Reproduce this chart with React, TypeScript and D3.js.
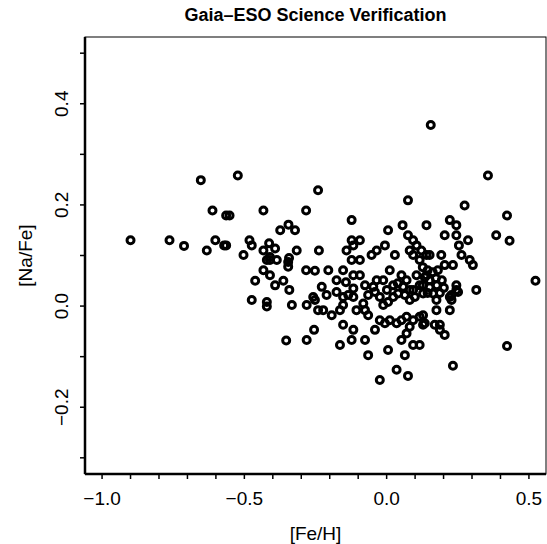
import * as d3 from "d3";

// [Fe/H] and [Na/Fe], one entry per star
const feH = [
  -0.900, -0.763, -0.712, -0.653, -0.632, -0.612, -0.602, -0.571, -0.564, -0.564,
  -0.552, -0.523, -0.503, -0.482, -0.474, -0.433, -0.433, -0.413, -0.392, -0.374,
  -0.345, -0.322, -0.316, -0.343, -0.410, -0.283, -0.241, -0.238, -0.421, -0.410,
  -0.386, -0.346, -0.346, -0.433, -0.410, -0.462, -0.392, -0.363, -0.342, -0.283,
  -0.252, -0.474, -0.421, -0.421, -0.333, -0.281, -0.252, -0.241, -0.255, -0.281,
  -0.353, -0.228, -0.123, 0.005, 0.056, 0.075, 0.140, -0.123, -0.094, -0.117,
  -0.141, -0.053, -0.035, -0.006, 0.029, 0.075, 0.093, 0.105, 0.122, 0.081,
  0.093, 0.116, 0.140, -0.123, -0.094, -0.205, -0.153, -0.176, -0.117, -0.094,
  0.011, -0.035, -0.012, 0.023, 0.052, 0.070, 0.105, 0.140, 0.116, 0.081,
  0.058, 0.128, -0.211, -0.258, -0.176, -0.153, -0.117, -0.117, -0.065, -0.047,
  -0.024, 0.023, 0.155, 0.356, 0.274, 0.423, 0.222, 0.245, 0.204, 0.245,
  0.286, 0.254, 0.385, 0.432, 0.151, 0.192, 0.263, 0.292, 0.303, 0.204,
  0.233, 0.245, 0.245, 0.315, 0.523, 0.222, 0.127, 0.144, 0.162, 0.180,
  0.134, 0.151, 0.173, 0.194, 0.127, 0.151, 0.176, 0.201, 0.144, 0.187,
  -0.135, -0.223, -0.193, -0.164, -0.153, -0.106, -0.082, -0.076, -0.065, -0.041,
  -0.012, 0.005, 0.040, 0.064, 0.081, 0.093, -0.024, -0.006, 0.011, 0.035,
  0.052, 0.070, 0.093, 0.081, 0.116, 0.134, 0.128, -0.041, -0.153, -0.117,
  -0.164, -0.123, -0.076, -0.065, 0.005, 0.052, 0.070, 0.093, 0.064, 0.035,
  0.075, -0.024, 0.163, 0.175, 0.228, 0.228, 0.251, 0.175, 0.222, 0.128,
  0.169, 0.187, 0.187, 0.204, 0.423, 0.233, 0.116, -0.076, 0.001, 0.039,
  0.099, -0.143,
];
const naFe = [
  0.130, 0.130, 0.119, 0.249, 0.110, 0.189, 0.130, 0.120, 0.120, 0.179,
  0.179, 0.258, 0.101, 0.130, 0.120, 0.189, 0.110, 0.124, 0.114, 0.150,
  0.161, 0.150, 0.110, 0.095, 0.097, 0.189, 0.229, 0.110, 0.091, 0.091,
  0.091, 0.087, 0.078, 0.071, 0.061, 0.050, 0.041, 0.050, 0.032, 0.071,
  0.070, 0.012, 0.008, -0.001, 0.002, 0.002, 0.012, -0.008, -0.047, -0.067,
  -0.068, 0.038, 0.170, 0.150, 0.160, 0.209, 0.160, 0.130, 0.130, 0.120,
  0.110, 0.101, 0.110, 0.120, 0.101, 0.140, 0.130, 0.120, 0.110, 0.110,
  0.101, 0.091, 0.101, 0.091, 0.091, 0.071, 0.071, 0.051, 0.061, 0.061,
  0.071, 0.051, 0.051, 0.041, 0.061, 0.051, 0.061, 0.061, 0.041, 0.032,
  0.038, 0.025, 0.022, 0.018, 0.028, 0.018, 0.035, 0.018, 0.022, 0.038,
  0.018, 0.018, 0.358, 0.258, 0.199, 0.179, 0.170, 0.160, 0.140, 0.140,
  0.130, 0.120, 0.140, 0.129, 0.101, 0.101, 0.101, 0.091, 0.081, 0.081,
  0.081, 0.041, 0.032, 0.032, 0.050, 0.018, 0.077, 0.071, 0.067, 0.071,
  0.057, 0.051, 0.055, 0.051, 0.041, 0.037, 0.041, 0.036, 0.026, 0.026,
  0.022, -0.008, -0.018, -0.008, 0.002, -0.008, 0.005, -0.008, -0.018, 0.028,
  0.002, 0.008, 0.025, 0.022, 0.012, 0.032, -0.028, -0.034, -0.028, -0.034,
  -0.028, -0.021, -0.028, -0.041, -0.021, -0.034, -0.018, -0.047, -0.037, -0.047,
  -0.077, -0.067, -0.067, -0.097, -0.087, -0.067, -0.054, -0.077, -0.097, -0.126,
  -0.138, -0.146, 0.025, 0.012, 0.022, 0.012, 0.028, -0.008, -0.008, -0.037,
  -0.037, -0.037, -0.047, -0.057, -0.079, -0.118, -0.077, 0.041, 0.032, 0.045,
  0.018, 0.047,
];

const xLabelled = [-1.0, -0.5, 0.0, 0.5];
const yLabelled = [-0.2, 0.0, 0.2, 0.4];
const xMinor = d3.range(-10, 6).map((i) => i / 10);
const yMinor = d3.range(-3, 6).map((i) => i / 10);

const W = 547;
const H = 544;
const left = 85, right = 546, top = 37, bottom = 474;
const font = "'Liberation Sans', Arial, Helvetica, sans-serif";

// R style minus sign
const fmt = (v: number) => v.toFixed(1).replace("-", "\u2212");

export default function App() {
  const x = d3.scaleLinear().domain([-1.06, 0.56]).range([left, right]);
  const y = d3.scaleLinear().domain([-0.332, 0.532]).range([bottom, top]);
  const pts = feH.map((f, i) => [f, naFe[i]]);

  return (
    <svg width={W} height={H} style={{ position: "absolute", left: 0, top: 0, background: "#fff" }}
      fontFamily={font}>
      <text x={(left + right) / 2} y={15} textAnchor="middle" dominantBaseline="central"
        fontWeight="bold" fontSize={18}>Gaia{"\u2013"}ESO Science Verification</text>

      {/* box, with heavier axis lines on the left and bottom */}
      <rect x={left} y={top} width={right - left} height={bottom - top} fill="none" stroke="#000" strokeWidth={1} />
      <line x1={left} x2={right} y1={bottom} y2={bottom} stroke="#000" strokeWidth={2.5} />
      <line x1={left} x2={left} y1={top} y2={bottom} stroke="#000" strokeWidth={2.5} />

      {/* ticks every 0.1 */}
      {xMinor.map((v) => (
        <line key={"xt" + v} x1={x(v)} x2={x(v)} y1={bottom} y2={bottom + 5} stroke="#000" strokeWidth={1.5} />
      ))}
      {yMinor.map((v) => (
        <line key={"yt" + v} x1={left} x2={left - 5} y1={y(v)} y2={y(v)} stroke="#000" strokeWidth={1.5} />
      ))}
      {xLabelled.map((v) => (
        <text key={"xl" + v} x={x(v)} y={bottom + 24} textAnchor="middle" dominantBaseline="central" fontSize={19}>
          {fmt(v)}
        </text>
      ))}
      {yLabelled.map((v) => (
        <text key={"yl" + v} transform={`translate(${left - 24},${y(v)}) rotate(-90)`} textAnchor="middle"
          dominantBaseline="central" fontSize={19}>
          {fmt(v)}
        </text>
      ))}

      <text x={(left + right) / 2} y={bottom + 59} textAnchor="middle" dominantBaseline="central" fontSize={19}>[Fe/H]</text>
      <text transform={`translate(${left - 60},${(top + bottom) / 2}) rotate(-90)`} textAnchor="middle"
        dominantBaseline="central" fontSize={19}>[Na/Fe]</text>

      {/* stars */}
      {pts.map((d, i) => (
        <circle key={i} cx={x(d[0])} cy={y(d[1])} r={3.5} fill="none" stroke="#000" strokeWidth={3} />
      ))}
    </svg>
  );
}
